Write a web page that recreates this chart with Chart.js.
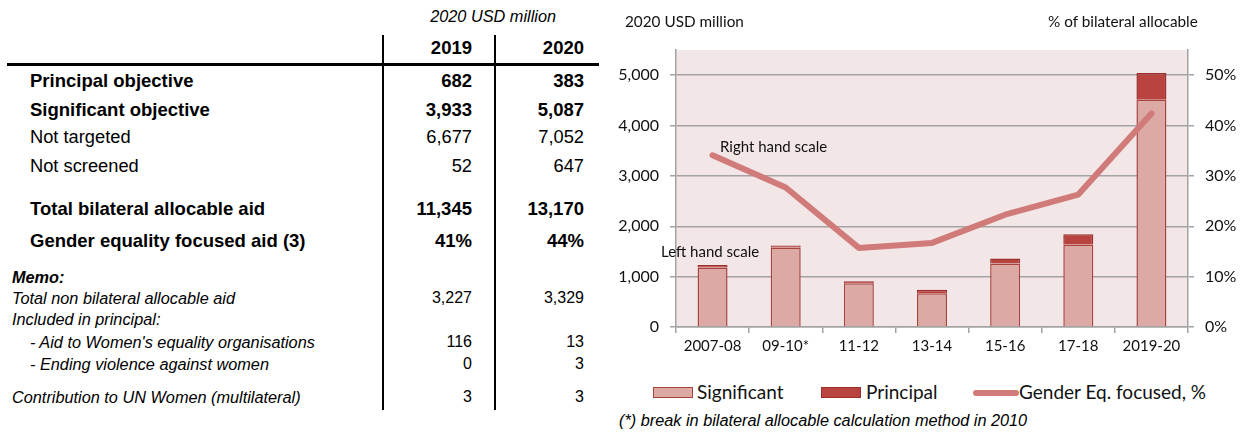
<!DOCTYPE html>
<html>
<head>
<meta charset="utf-8">
<script src="https://cdn.jsdelivr.net/npm/chart.js@4.4.1/dist/chart.umd.min.js"></script>
<style>
  html, body { margin:0; padding:0; background:#fff; }
  body { width:1243px; height:432px; position:relative; overflow:hidden; font-family:"Liberation Sans", Arial, sans-serif; color:#000; }
  .t { position:absolute; white-space:nowrap; line-height:22px; height:22px; }
  .b { font-weight:bold; font-size:18.5px; }
  .n { font-size:18.3px; }
  .m { font-size:16.3px; }
  .i { font-style:italic; }
  .r { text-align:right; }
  .c19 { right:771px; }
  .c20 { right:659px; }
  .vl { position:absolute; top:35px; width:2px; height:375px; background:#000; }
  .lab { position:absolute; white-space:nowrap; font-family:Lato, sans-serif; color:#111; }
  #chartBox { position:absolute; left:600px; top:0; width:643px; height:370px; }
  .sw { position:absolute; box-sizing:border-box; }
</style>
</head>
<body>
<script>
// ---- Chart data ----
const categories = ['2007-08', '09-10*', '11-12', '13-14', '15-16', '17-18', '2019-20'];
const significant = [1180, 1580, 870, 670, 1260, 1640, 4510];
const principal = [50, 40, 40, 70, 100, 200, 532];
const genderFocusedPct = [34.1, 27.7, 15.7, 16.7, 22.3, 26.3, 42.4];
const leftTicks = [0, 1000, 2000, 3000, 4000, 5000];
const rightTicks = [0, 10, 20, 30, 40, 50];

// ---- Table data ----
const tableYears = ['2019', '2020'];
const tableRows = [
  ['Principal objective', '682', '383'],
  ['Significant objective', '3,933', '5,087'],
  ['Not targeted', '6,677', '7,052'],
  ['Not screened', '52', '647'],
  ['Total bilateral allocable aid', '11,345', '13,170'],
  ['Gender equality focused aid (3)', '41%', '44%']
];
const memoRows = [
  ['Memo:', '', ''],
  ['Total non bilateral allocable aid', '3,227', '3,329'],
  ['Included in principal:', '', ''],
  ['   - Aid to Women\'s equality organisations', '116', '13'],
  ['   - Ending violence against women', '0', '3'],
  ['Contribution to UN Women (multilateral)', '3', '3']
];
</script>

<div id="table"></div>
<div class="vl" style="left:382px"></div>
<div class="vl" style="left:494px"></div>
<div style="position:absolute;left:7px;top:63px;width:592px;height:3px;background:#000"></div>

<div id="chartBox"><canvas id="c"></canvas></div>

<div class="lab" style="left:625px;top:12px;font-size:15.3px">2020 USD million</div>
<div class="lab" style="left:1048px;top:12px;font-size:15.3px">% of bilateral allocable</div>
<div class="lab" style="left:720px;top:137px;font-size:15px">Right hand scale</div>
<div class="lab" style="left:661px;top:242px;font-size:15px">Left hand scale</div>

<div id="legend"></div>
<div class="t i" style="left:619px;top:409px;font-size:16.3px">(*) break in bilateral allocable calculation method in 2010</div>

<script>
// build table
(function(){
  const box = document.getElementById('table');
  let html = '';
  html += '<div class="t i m" style="left:380px;width:176px;text-align:right;top:5px">2020 USD million</div>';
  html += '<div class="t b r c19" style="top:37px">' + tableYears[0] + '</div>';
  html += '<div class="t b r c20" style="top:37px">' + tableYears[1] + '</div>';
  const ys = [70, 99, 126, 155, 198, 230];
  const bold = [true, true, false, false, true, true];
  tableRows.forEach((r, k) => {
    const cls = bold[k] ? 'b' : 'n';
    html += '<div class="t ' + cls + '" style="left:30px;top:' + ys[k] + 'px">' + r[0] + '</div>';
    html += '<div class="t r c19 ' + cls + '" style="top:' + ys[k] + 'px">' + r[1] + '</div>';
    html += '<div class="t r c20 ' + cls + '" style="top:' + ys[k] + 'px">' + r[2] + '</div>';
  });
  const my = [266, 287, 308, 331, 353, 386];
  memoRows.forEach((r, k) => {
    const indent = r[0].startsWith('   ') ? 30 : 12;
    const label = r[0].trim();
    const st = k === 0 ? 'font-weight:bold;' : '';
    html += '<div class="t i m" style="left:' + indent + 'px;top:' + my[k] + 'px;' + st + '">' + label + '</div>';
    if (r[1] !== '') html += '<div class="t r c19 m" style="top:' + my[k] + 'px;font-size:16px">' + r[1] + '</div>';
    if (r[2] !== '') html += '<div class="t r c20 m" style="top:' + my[k] + 'px;font-size:16px">' + r[2] + '</div>';
  });
  box.innerHTML = html;
})();

const SIG_FILL = '#dca9a5';
const SIG_BORDER = '#a8433f';
const PRIN_FILL = '#b9433f';
const PRIN_BORDER = '#9a302d';
const LINE_COLOR = '#d07b79';
const GRID = '#a3a3a3';

// legend (HTML)
(function(){
  const lg = document.getElementById('legend');
  lg.innerHTML =
    '<div class="sw" style="left:653px;top:387px;width:40px;height:11px;background:' + SIG_FILL + ';border:1.5px solid ' + SIG_BORDER + '"></div>' +
    '<div class="lab" style="left:697px;top:380px;font-size:19px">Significant</div>' +
    '<div class="sw" style="left:821px;top:387px;width:40px;height:11px;background:' + PRIN_FILL + ';border:1.5px solid ' + PRIN_BORDER + '"></div>' +
    '<div class="lab" style="left:866px;top:380px;font-size:19px">Principal</div>' +
    '<div class="sw" style="left:973px;top:390px;width:46px;height:6px;border-radius:3px;background:' + LINE_COLOR + '"></div>' +
    '<div class="lab" style="left:1019px;top:380px;font-size:19px">Gender Eq. focused, %</div>';
})();

const plotBg = {
  id: 'plotBg',
  beforeDraw(chart) {
    const {ctx, chartArea: a} = chart;
    ctx.save();
    ctx.fillStyle = '#f2e6e6';
    ctx.fillRect(a.left, a.top, a.right - a.left, a.bottom - a.top);
    ctx.restore();
  }
};

new Chart(document.getElementById('c'), {
  type: 'bar',
  data: {
    labels: categories,
    datasets: [
      {
        type: 'line', label: 'Gender Eq. focused, %', data: genderFocusedPct, yAxisID: 'y1', order: 0,
        borderColor: LINE_COLOR, borderWidth: 6, pointRadius: 0, tension: 0,
        borderCapStyle: 'round', borderJoinStyle: 'round', fill: false
      },
      {
        label: 'Significant', data: significant, yAxisID: 'y', order: 1, stack: 's',
        backgroundColor: SIG_FILL, borderColor: SIG_BORDER, borderWidth: 1.5,
        barPercentage: 0.41, categoryPercentage: 1
      },
      {
        label: 'Principal', data: principal, yAxisID: 'y', order: 2, stack: 's',
        backgroundColor: PRIN_FILL, borderColor: PRIN_BORDER, borderWidth: 1.5,
        barPercentage: 0.41, categoryPercentage: 1
      }
    ]
  },
  options: {
    responsive: true,
    maintainAspectRatio: false,
    animation: false,
    layout: { padding: { top: 50, left: 0, right: 0, bottom: 0 } },
    plugins: { legend: { display: false }, tooltip: { enabled: false } },
    scales: {
      x: {
        stacked: true,
        offset: true,
        grid: { offset: true, drawOnChartArea: false, color: GRID, lineWidth: 1.5, tickLength: 6 },
        border: { color: GRID, width: 1.5 },
        ticks: { color: '#111', font: { family: 'Lato', size: 15 }, padding: 4, maxRotation: 0 },
        afterFit(s) { s.height = 43; }
      },
      y: {
        stacked: true, position: 'left', min: 0, max: 5500,
        afterBuildTicks(s) { s.ticks = leftTicks.map(v => ({ value: v })); },
        grid: { color: GRID, lineWidth: 1.5, tickLength: 6 },
        border: { color: GRID, width: 1.5 },
        ticks: { color: '#111', font: { family: 'Lato', size: 16 }, padding: 11,
          callback: v => v.toLocaleString('en-US') },
        afterFit(s) { s.width = 76; }
      },
      y1: {
        position: 'right', min: 0, max: 55,
        afterBuildTicks(s) { s.ticks = rightTicks.map(v => ({ value: v })); },
        grid: { drawOnChartArea: false, color: GRID, lineWidth: 1.5, tickLength: 6 },
        border: { color: GRID, width: 1.5 },
        ticks: { color: '#111', font: { family: 'Lato', size: 16 }, padding: 11,
          callback: v => v + '%' },
        afterFit(s) { s.width = 55; }
      }
    }
  },
  plugins: [plotBg]
});
</script>
</body>
</html>
